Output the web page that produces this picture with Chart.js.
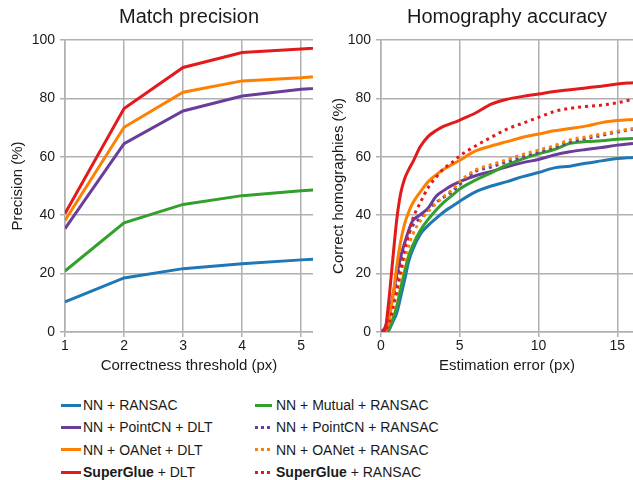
<!DOCTYPE html>
<html>
<head>
<meta charset="utf-8">
<script src="https://cdn.jsdelivr.net/npm/chart.js@4.4.0/dist/chart.umd.min.js"></script>
<style>
  body { margin: 0; background: #fff; width: 633px; height: 480px; position: relative; overflow: hidden;
         font-family: "Liberation Sans", Arial, sans-serif; color: #1a1a1a; }
  #left { position: absolute; left: 0; top: 0; }
  #right { position: absolute; left: 313px; top: 0; }
  .item { position: absolute; font-size: 14px; line-height: 16px; white-space: nowrap; }
  .item i { display: inline-block; height: 3px; vertical-align: middle; margin-right: 2px; position: relative; top: -1px; }
</style>
</head>
<body>
<canvas id="left" width="313" height="385"></canvas>
<canvas id="right" width="320" height="385"></canvas>
<div id="legend"></div>
<script>
// match precision (left)
var thresholds = [1, 2, 3, 4, 5, 6];
var precNN = [10.3, 18.5, 21.7, 23.4, 24.7, 25.7];
var precMutual = [20.9, 37.4, 43.7, 46.7, 48.4, 49.6];
var precPointCN = [35.4, 64.5, 75.7, 80.8, 83.1, 84.6];
var precOANet = [38.2, 70.1, 82.1, 86.0, 87.1, 88.7];
var precSuperGlue = [40.6, 76.5, 90.6, 95.7, 96.9, 98.3];

// homography accuracy (right)
var errors = [0, 0.25, 0.5, 0.75, 1, 1.25, 1.5, 1.75, 2, 2.5, 3, 3.5, 4, 4.5, 5, 6, 7, 8, 9, 10, 11, 12, 13, 14, 15, 16];
var accNN = [0, 0.1, 0.6, 3.5, 6.5, 12, 17.8, 24, 28, 33.5, 36.5, 38.9, 41.2, 43, 44.8, 48, 50, 51.5, 53.2, 54.6, 56.2, 56.8, 57.8, 58.6, 59.4, 59.8];
var accMutual = [0, 0.2, 1, 4.5, 8.8, 15, 20.8, 26, 29.5, 34.8, 38.6, 41.8, 44.5, 46.7, 49, 52, 54.5, 57.2, 59.3, 61, 62.5, 64.6, 65.2, 65.5, 66, 66.3];
var accPointCNDLT = [0, 1.5, 5.5, 12.5, 19.5, 25.7, 30.5, 34.7, 38, 40.2, 42.5, 46.5, 48.5, 50.2, 51.5, 53.5, 55, 56.6, 58, 59.1, 60.6, 61.7, 62.5, 63.2, 64, 64.6];
var accPointCNRansac = [0, 0.8, 5, 11, 18, 24.4, 30, 33.5, 36.3, 39.1, 42, 44.4, 46.2, 48, 50.5, 55, 56.5, 58.3, 60, 61.5, 63.2, 65, 66.2, 67.3, 68.5, 69.4];
var accOANetDLT = [0, 0.3, 4, 12, 22.5, 31, 37, 41, 44, 48, 51.5, 53.8, 55.8, 57.3, 58.8, 62, 63.7, 65.2, 66.7, 67.8, 68.9, 69.7, 70.5, 71.7, 72.4, 72.8];
var accOANetRansac = [0, 0.3, 3, 8, 13.5, 18.9, 24.5, 29.3, 33.3, 38.1, 41.3, 44, 46.5, 48.6, 51.5, 55.5, 57.3, 59, 60.8, 62.3, 63.8, 65.8, 66.8, 67.8, 68.8, 69.7];
var accSGDLT = [0, 0.7, 11, 25, 38.5, 47.5, 52.5, 55.5, 58, 63.5, 67, 69, 70.5, 71.5, 72.6, 75, 78, 79.7, 80.7, 81.5, 82.4, 83, 83.6, 84.2, 84.9, 85.4];
var accSGRansac = [0, 0.3, 3, 8, 14, 21, 28, 33, 38.5, 44.3, 49.5, 53, 56, 58, 60.3, 63.7, 66.7, 69.5, 71.5, 73.5, 75.5, 76.6, 77.2, 77.7, 78.5, 79.7];

var yTicks = [0, 20, 40, 60, 80, 100];

var BLUE = '#1f78b4', GREEN = '#33a02c', PURPLE = '#6a3d9a', ORANGE = '#ff7f00', RED = '#e31a1c';
var GRID = '#b0b0b0', TEXT = '#1a1a1a', FONT = '"Liberation Sans", Arial, sans-serif';
var DOTS = [3, 4];

function pts(xs, ys) {
  return ys.map(function (v, i) { return { x: xs[i], y: v }; });
}

function line(data, color, dashed) {
  return {
    data: data, borderColor: color, borderWidth: 3, pointRadius: 0, fill: false,
    borderDash: dashed ? DOTS : [], borderCapStyle: 'butt', cubicInterpolationMode: 'monotone'
  };
}

function makeOptions(o) {
  return {
    responsive: false, animation: false,
    layout: { padding: 0 },
    plugins: {
      legend: { display: false }, tooltip: { enabled: false },
      title: { display: true, text: o.title, fullSize: false, color: TEXT,
               font: { family: FONT, size: 20, weight: 'normal' }, padding: { top: 5, bottom: 11 } }
    },
    scales: {
      x: {
        type: 'linear', min: o.xmin, max: o.xmax,
        afterFit: function (s) { s.height = 53; },
        afterBuildTicks: function (s) { s.ticks = o.xticks.map(function (v) { return { value: v }; }); },
        grid: { color: GRID, lineWidth: 1.5, tickLength: 5 },
        border: { color: GRID, width: 1.5 },
        ticks: { color: TEXT, font: { family: FONT, size: 14 }, padding: 1, maxRotation: 0 },
        title: { display: true, text: o.xlabel, color: TEXT, font: { family: FONT, size: 15 }, padding: { top: 6, bottom: 10 } }
      },
      y: {
        min: 0, max: 100,
        afterFit: function (s) { s.width = o.ywidth; },
        afterBuildTicks: function (s) { s.ticks = yTicks.map(function (v) { return { value: v }; }); },
        grid: { color: GRID, lineWidth: 1.5, tickLength: 5 },
        border: { color: GRID, width: 1.5 },
        ticks: { color: TEXT, font: { family: FONT, size: 14 }, padding: 5 },
        title: { display: true, text: o.ylabel, color: TEXT, font: { family: FONT, size: 15 }, padding: { top: o.ytitlePad, bottom: 0 } }
      }
    }
  };
}

new Chart(document.getElementById('left'), {
  type: 'line',
  data: {
    datasets: [
      line(pts(thresholds, precSuperGlue), RED),
      line(pts(thresholds, precOANet), ORANGE),
      line(pts(thresholds, precPointCN), PURPLE),
      line(pts(thresholds, precMutual), GREEN),
      line(pts(thresholds, precNN), BLUE)
    ].map(function (d) { d.cubicInterpolationMode = 'default'; d.tension = 0; return d; })
  },
  options: makeOptions({ title: 'Match precision', xmin: 1, xmax: 5.2, xticks: [1, 2, 3, 4, 5],
    xlabel: 'Correctness threshold (px)', ylabel: 'Precision (%)', ywidth: 65, ytitlePad: 9 })
});

new Chart(document.getElementById('right'), {
  type: 'line',
  data: {
    datasets: [
      line(pts(errors, accSGDLT), RED),
      line(pts(errors, accSGRansac), RED, true),
      line(pts(errors, accOANetDLT), ORANGE),
      line(pts(errors, accOANetRansac), ORANGE, true),
      line(pts(errors, accPointCNRansac), PURPLE, true),
      line(pts(errors, accMutual), GREEN),
      line(pts(errors, accPointCNDLT), PURPLE),
      line(pts(errors, accNN), BLUE)
    ]
  },
  options: makeOptions({ title: 'Homography accuracy', xmin: 0, xmax: 16, xticks: [0, 5, 10, 15],
    xlabel: 'Estimation error (px)', ylabel: 'Correct homographies (%)', ywidth: 68, ytitlePad: 17 })
});

// legend
var legendItems = [
  { html: 'NN + RANSAC', color: BLUE, dashed: false, col: 0, row: 0 },
  { html: 'NN + PointCN + DLT', color: PURPLE, dashed: false, col: 0, row: 1 },
  { html: 'NN + OANet + DLT', color: ORANGE, dashed: false, col: 0, row: 2 },
  { html: '<b>SuperGlue</b> + DLT', color: RED, dashed: false, col: 0, row: 3 },
  { html: 'NN + Mutual + RANSAC', color: GREEN, dashed: false, col: 1, row: 0 },
  { html: 'NN + PointCN + RANSAC', color: PURPLE, dashed: true, col: 1, row: 1 },
  { html: 'NN + OANet + RANSAC', color: ORANGE, dashed: true, col: 1, row: 2 },
  { html: '<b>SuperGlue</b> + RANSAC', color: RED, dashed: true, col: 1, row: 3 }
];
var legend = document.getElementById('legend');
legendItems.forEach(function (it) {
  var d = document.createElement('div');
  d.className = 'item';
  d.style.left = (it.col ? 255 : 61) + 'px';
  d.style.top = (397 + it.row * 22.3) + 'px';
  var sw = it.dashed
    ? 'width:15px;margin-right:6px;background:repeating-linear-gradient(to right,' + it.color + ' 0 3px,transparent 3px 6px)'
    : 'width:' + (it.col ? 17 : 20) + 'px;margin-right:' + (it.col ? 4 : 2) + 'px;background:' + it.color;
  d.innerHTML = '<i style="' + sw + '"></i>' + it.html;
  legend.appendChild(d);
});
</script>
</body>
</html>
